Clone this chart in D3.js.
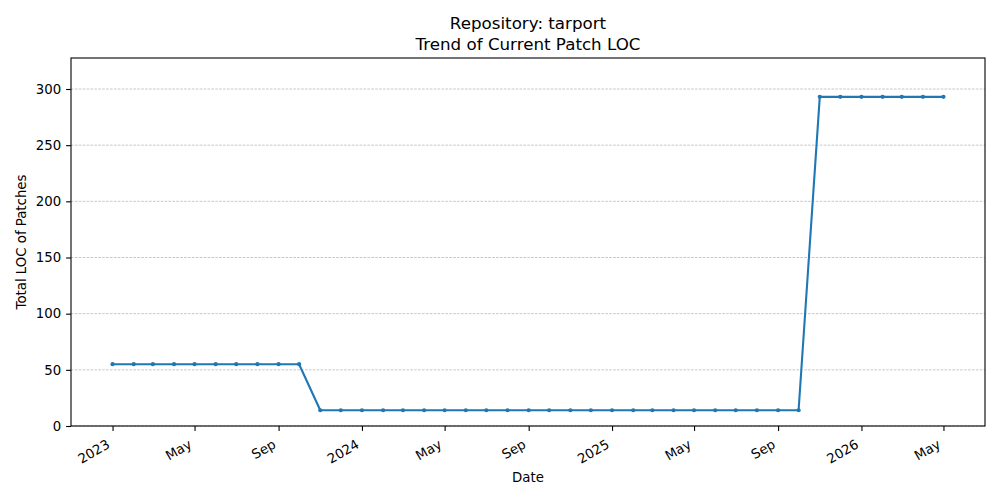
<!DOCTYPE html>
<html>
<head>
<meta charset="utf-8">
<script src="https://cdn.jsdelivr.net/npm/d3@7"></script>
<style>
  body { margin: 0; background: #fff; }
  svg text { font-family: "DejaVu Sans", sans-serif; fill: #000; }
</style>
</head>
<body>
<svg id="chart" width="1000" height="500"></svg>
<script>
// monthly snapshots, first of each month
const months = [
  '2023-01', '2023-02', '2023-03', '2023-04', '2023-05', '2023-06', '2023-07', '2023-08', '2023-09', '2023-10',
  '2023-11', '2023-12', '2024-01', '2024-02', '2024-03', '2024-04', '2024-05', '2024-06', '2024-07', '2024-08',
  '2024-09', '2024-10', '2024-11', '2024-12', '2025-01', '2025-02', '2025-03', '2025-04', '2025-05', '2025-06',
  '2025-07', '2025-08', '2025-09', '2025-10', '2025-11', '2025-12', '2026-01', '2026-02', '2026-03', '2026-04',
  '2026-05'
];
const locValues = [
  55, 55, 55, 55, 55, 55, 55, 55, 55, 55,
  14, 14, 14, 14, 14, 14, 14, 14, 14, 14,
  14, 14, 14, 14, 14, 14, 14, 14, 14, 14,
  14, 14, 14, 14, 293, 293, 293, 293, 293, 293,
  293
];
const yTicks = [0, 50, 100, 150, 200, 250, 300];
const xTickMonths = ['2023-01', '2023-05', '2023-09', '2024-01', '2024-05', '2024-09',
  '2025-01', '2025-05', '2025-09', '2026-01', '2026-05'];

const parse = d3.timeParse('%Y-%m');
const data = months.map((m, i) => ({ date: parse(m), value: locValues[i] }));

const margin = { top: 58, right: 15, bottom: 74, left: 71 };
const width = 1000 - margin.left - margin.right;
const height = 500 - margin.top - margin.bottom;

const svg = d3.select('#chart');
const g = svg.append('g').attr('transform', `translate(${margin.left},${margin.top})`);

// matplotlib style 5% padding on x
const [x0, x1] = d3.extent(data, d => d.date);
const pad = (x1 - x0) * 0.05;
const x = d3.scaleTime()
  .domain([new Date(+x0 - pad), new Date(+x1 + pad)])
  .range([0, width]);

const y = d3.scaleLinear()
  .domain([0, 327.6])
  .range([height, 0]);

// grid
g.append('g')
  .selectAll('line')
  .data(yTicks)
  .join('line')
  .attr('x1', 0)
  .attr('x2', width)
  .attr('y1', d => y(d))
  .attr('y2', d => y(d))
  .attr('stroke', '#b0b0b0')
  .attr('stroke-width', 0.7)
  .attr('stroke-dasharray', '2.6,1.3');

// y axis
const yAxis = g.append('g')
  .call(d3.axisLeft(y).tickValues(yTicks).tickSize(4.9).tickPadding(4.9).tickFormat(d3.format('d')));
yAxis.select('.domain').remove();
yAxis.selectAll('.tick line').attr('stroke', '#000').attr('stroke-width', 1.1);
yAxis.selectAll('text').style('font-size', '13.3px');

// x axis, labels rotated 30deg, right edge of the rotated box under the tick
const monthFmt = d => (d.getMonth() === 0 ? d3.timeFormat('%Y')(d) : d3.timeFormat('%b')(d));
const xAxis = g.append('g')
  .attr('transform', `translate(0,${height})`)
  .call(d3.axisBottom(x).tickValues(xTickMonths.map(parse)).tickSize(4.9).tickFormat(monthFmt));
xAxis.select('.domain').remove();
xAxis.selectAll('.tick line').attr('stroke', '#000').attr('stroke-width', 1.1);
xAxis.selectAll('text')
  .style('font-size', '13.3px')
  .attr('text-anchor', 'end')
  .attr('x', 0)
  .attr('y', 0)
  .attr('dy', '0.78em')
  .attr('transform', 'translate(-7.5,12) rotate(-30)');

// frame
g.append('rect')
  .attr('width', width)
  .attr('height', height)
  .attr('fill', 'none')
  .attr('stroke', '#000')
  .attr('stroke-width', 1.1);

// line + markers
const line = d3.line().x(d => x(d.date)).y(d => y(d.value));
g.append('path')
  .datum(data)
  .attr('d', line)
  .attr('fill', 'none')
  .attr('stroke', '#1f77b4')
  .attr('stroke-width', 2.1)
  .attr('stroke-linejoin', 'round');

g.append('g')
  .selectAll('circle')
  .data(data)
  .join('circle')
  .attr('cx', d => x(d.date))
  .attr('cy', d => y(d.value))
  .attr('r', 2.1)
  .attr('fill', '#1f77b4');

// titles and labels
svg.append('text')
  .attr('x', margin.left + width / 2)
  .attr('y', 29)
  .attr('text-anchor', 'middle')
  .style('font-size', '16.7px')
  .text('Repository: tarport');
svg.append('text')
  .attr('x', margin.left + width / 2)
  .attr('y', 50)
  .attr('text-anchor', 'middle')
  .style('font-size', '16.7px')
  .text('Trend of Current Patch LOC');

svg.append('text')
  .attr('x', margin.left + width / 2)
  .attr('y', 482)
  .attr('text-anchor', 'middle')
  .style('font-size', '13.3px')
  .text('Date');

svg.append('text')
  .attr('transform', `translate(26,${margin.top + height / 2}) rotate(-90)`)
  .attr('text-anchor', 'middle')
  .style('font-size', '13.3px')
  .text('Total LOC of Patches');
</script>
</body>
</html>
